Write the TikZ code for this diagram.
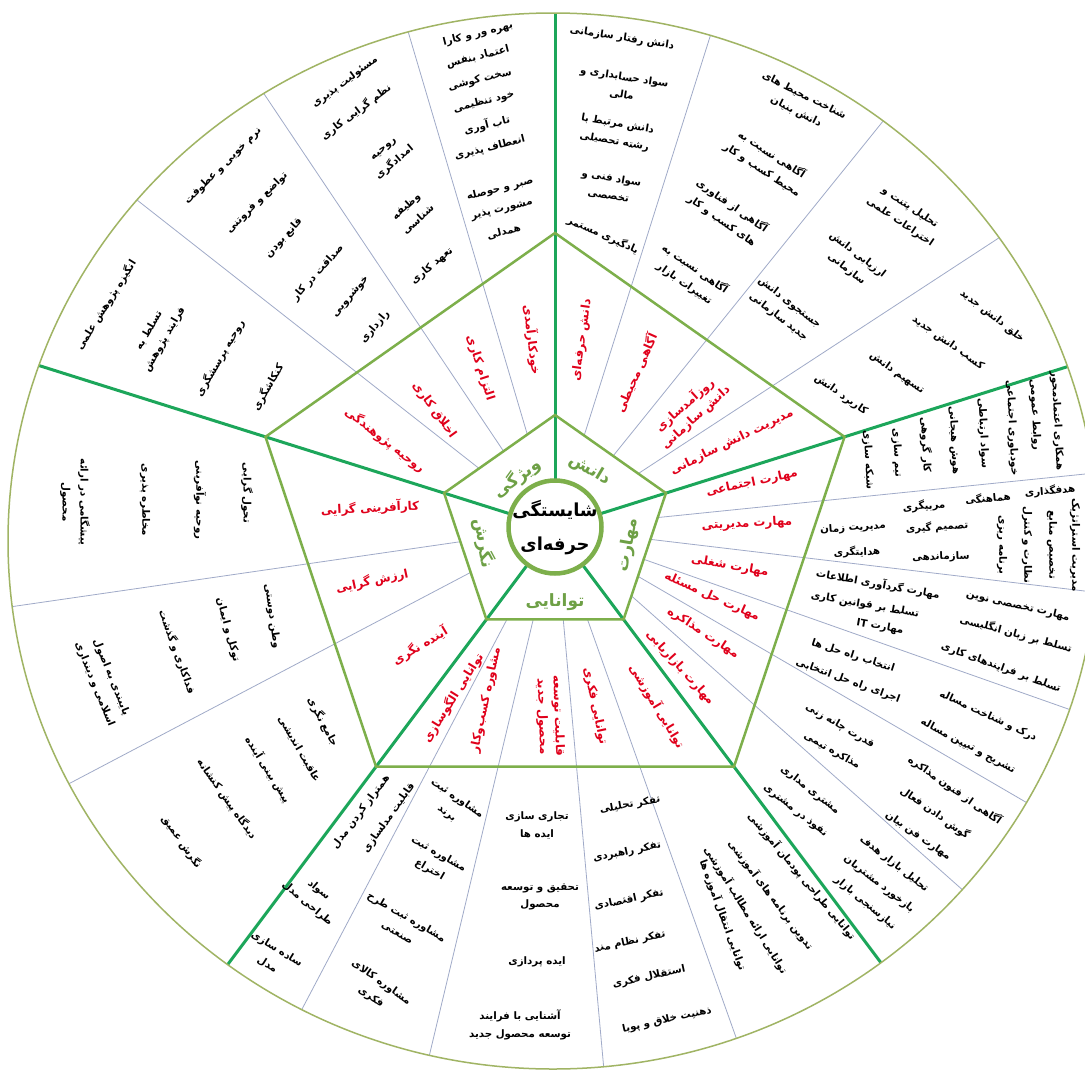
\documentclass[tikz,border=0pt]{standalone}
\usepackage{fontspec}
\usetikzlibrary{calc}
\TeXXeTstate=1
\newfontfamily\arabicfont[Script=Arabic]{DejaVu Sans}
\newcommand{\fa}[1]{\beginR #1\endR}
\definecolor{spoke}{HTML}{1CA65A}
\definecolor{olive}{HTML}{7DAF4B}
\definecolor{rim}{HTML}{A0B464}
\definecolor{thinc}{HTML}{A0AAC8}
\definecolor{redlab}{HTML}{E0001B}
\definecolor{grnlab}{HTML}{6EA046}
\begin{document}
\begin{tikzpicture}[x=1bp,y=-1bp,
  thinl/.style={draw=thinc,line width=0.8bp},
  spk/.style={draw=spoke,line width=3bp},
  pent/.style={draw=olive,line width=2.5bp},
  blk/.style={font=\arabicfont\bfseries\fontsize{10.3}{18}\selectfont,align=center,inner sep=0pt},
  redl/.style={font=\arabicfont\bfseries\fontsize{12}{16}\selectfont,text=redlab,align=center,inner sep=0pt},
  grnl/.style={font=\arabicfont\bfseries\fontsize{17}{20}\selectfont,text=grnlab,inner sep=0pt},
  ctrl/.style={font=\arabicfont\bfseries\fontsize{18}{22}\selectfont,inner sep=0pt}]
\useasboundingbox (0,0) rectangle (1085,1073);
\fill[white] (0,0) rectangle (1085,1073);
\coordinate (C) at (555,528);
\coordinate (E) at (553,541);
\foreach \a in {90,162,234,306,18}{
  \coordinate (o\a) at ($(C)+({1.032*295*cos(\a)},{-295*sin(\a)})$);
  \coordinate (i\a) at ($(C)+({1.032*113*cos(\a)},{-113*sin(\a)})$);
}
\begin{scope}
\clip (E) ellipse [x radius=545, y radius=528];
\foreach \a in {106,123,141,73,52,34,6,-7,-20,-31,-42.5,243,257,275,289,188.5,208.5}
  \draw[thinl] (C) -- ($(C)+({1.032*700*cos(\a)},{-700*sin(\a)})$);
\fill[white] (i90)--(i162)--(i234)--(i306)--(i18)--cycle;
\foreach \a in {90,162,234,306,18}
  \draw[spk] (C) -- ($(C)+({1.032*700*cos(\a)},{-700*sin(\a)})$);
\end{scope}
\draw[pent] (o90)--(o162)--(o234)--(o306)--(o18)--cycle;
\draw[pent] (i90)--(i162)--(i234)--(i306)--(i18)--cycle;
\draw[draw=rim,line width=1.5bp] (E) ellipse [x radius=545, y radius=528];
\node[circle,draw=olive,line width=4.5bp,fill=white,minimum size=93bp,inner sep=0pt] (ctr) at (555,527) {};
% centre
\node[ctrl] (c1) at (555,510) {\fa{شایستگی}};
\node[ctrl] (c2) at (555,546) {\fa{حرفه‌ای}};
% five categories
\node[grnl,rotate=-31] (g1) at (590,470) {\fa{دانش}};
\node[grnl,rotate=36] (g2) at (517,478) {\fa{ویژگی}};
\node[grnl,rotate=80] (g3) at (628,545) {\fa{مهارت}};
\node[grnl] (g4) at (555,602) {\fa{توانایی}};
\node[grnl,rotate=-80] (g5) at (484,543) {\fa{نگرش}};
% red labels
\node[redl,rotate=-83] (r1) at (532,340) {\fa{خودکارآمدی}};
\node[redl,rotate=-72] (r2) at (480,368) {\fa{التزام کاری}};
\node[redl,rotate=-54] (r3) at (434,410) {\fa{اخلاق کاری}};
\node[redl,rotate=-38] (r4) at (385,440) {\fa{روحیه پژوهندگی}};
\node[redl,rotate=82] (r5) at (582,340) {\fa{دانش حرفه‌ای}};
\node[redl,rotate=66] (r6) at (636,373) {\fa{آگاهی محیطی}};
\node[redl,rotate=42] (r7) at (690,411) {\fa{روزآمدسازی}\\\fa{دانش سازمانی}};
\node[redl,rotate=26] (r8) at (732,442) {\fa{مدیریت دانش سازمانی}};
\node[redl,rotate=12] (r9) at (752,483) {\fa{مهارت اجتماعی}};
\node[redl,rotate=3] (r10) at (747,524) {\fa{مهارت مدیریتی}};
\node[redl,rotate=-10] (r11) at (730,566) {\fa{مهارت شغلی}};
\node[redl,rotate=-24] (r12) at (712,597) {\fa{مهارت حل مسئله}};
\node[redl,rotate=-33] (r13) at (703,633) {\fa{مهارت مذاکره}};
\node[redl,rotate=-48] (r14) at (680,668) {\fa{مهارت بازاریابی}};
\node[redl,rotate=-59] (r15) at (657,706) {\fa{توانایی آموزشی}};
\node[redl,rotate=-78] (r16) at (595,706) {\fa{توانایی فکری}};
\node[redl,rotate=-88] (r17) at (550,716) {\fa{قابلیت توسعه}\\\fa{محصول جدید}};
\node[redl,rotate=78] (r18) at (486,700) {\fa{مشاوره کسب‌وکار}};
\node[redl,rotate=58] (r19) at (453,698) {\fa{توانایی الگوسازی}};
\node[redl,rotate=3] (r20) at (370,508) {\fa{کارآفرینی گرایی}};
\node[redl,rotate=12] (r21) at (372,581) {\fa{ارزش گرایی}};
\node[redl,rotate=31] (r22) at (420,646) {\fa{آینده نگری}};
% top-left sector, column A
\node[blk,rotate=14] (a1) at (478,34) {\fa{بهره ور و کارا}};
\node[blk,rotate=14] (a2) at (478,57) {\fa{اعتماد بنفس}};
\node[blk,rotate=14] (a3) at (480,80) {\fa{سخت کوشی}};
\node[blk,rotate=14] (a4) at (484,102) {\fa{خود تنظیمی}};
\node[blk,rotate=14] (a5) at (487,125) {\fa{تاب آوری}};
\node[blk,rotate=14] (a6) at (490,148) {\fa{انعطاف پذیری}};
\node[blk,rotate=14] (a7) at (500,189) {\fa{صبر و حوصله}};
\node[blk,rotate=14] (a8) at (502,210) {\fa{مشورت پذیر}};
\node[blk,rotate=14] (a9) at (504,232) {\fa{همدلی}};
% column B
\node[blk,rotate=37] (b1) at (345,82) {\fa{مسئولیت پذیری}};
\node[blk,rotate=37] (b2) at (356,112) {\fa{نظم گرایی کاری}};
\node[blk,rotate=40] (b3) at (390,157) {\fa{روحیه}\\\fa{امدادگری}};
\node[blk,rotate=42] (b4) at (412,213) {\fa{وظیفه}\\\fa{شناسی}};
\node[blk,rotate=40] (b5) at (432,266) {\fa{تعهد کاری}};
% column C
\node[blk,rotate=45] (cc1) at (223,166) {\fa{نرم خویی و عطوفت}};
\node[blk,rotate=45] (cc2) at (257,203) {\fa{تواضع و فروتنی}};
\node[blk,rotate=48] (cc3) at (284,238) {\fa{قانع بودن}};
\node[blk,rotate=48] (cc4) at (318,273) {\fa{صداقت در کار}};
\node[blk,rotate=50] (cc5) at (351,297) {\fa{خوشرویی}};
\node[blk,rotate=50] (cc6) at (375,327) {\fa{رازداری}};
% column D
\node[blk,rotate=58] (d1) at (106,305) {\fa{انگیزه پژوهش علمی}};
\node[blk,rotate=60] (d2) at (157,335) {\fa{تسلط به}\\\fa{فرایند پژوهش}};
\node[blk,rotate=60] (d3) at (220,358) {\fa{روحیه پرسشگری}};
\node[blk,rotate=60] (d4) at (268,387) {\fa{کنکاشگری}};
% top-right sector, column 1
\node[blk,rotate=-9] (e1) at (622,38) {\fa{دانش رفتار سازمانی}};
\node[blk,rotate=-9] (e2) at (623,86) {\fa{سواد حسابداری و}\\\fa{مالی}};
\node[blk,rotate=-10] (e3) at (616,133) {\fa{دانش مرتبط با}\\\fa{رشته تحصیلی}};
\node[blk,rotate=-10] (e4) at (610,187) {\fa{سواد فنی و}\\\fa{تخصصی}};
\node[blk,rotate=-24] (e5) at (603,235) {\fa{یادگیری مستمر}};
% column 2
\node[blk,rotate=-27] (f1) at (800,104) {\fa{شناخت محیط های}\\\fa{دانش بنیان}};
\node[blk,rotate=-33] (f2) at (767,162) {\fa{آگاهی نسبت به}\\\fa{محیط کسب و کار}};
\node[blk,rotate=-35] (f3) at (727,213) {\fa{آگاهی از فناوری}\\\fa{های کسب و کار}};
\node[blk,rotate=-35] (f4) at (690,276) {\fa{آگاهی نسبت به}\\\fa{تغییرات بازار}};
% column 3
\node[blk,rotate=-34] (h1) at (905,215) {\fa{تحلیل پتنت و}\\\fa{اختراعات علمی}};
\node[blk,rotate=-38] (h2) at (852,262) {\fa{ارزیابی دانش}\\\fa{سازمانی}};
\node[blk,rotate=-38] (h3) at (784,310) {\fa{جستجوی دانش}\\\fa{جدید سازمانی}};
% column 4
\node[blk,rotate=-38] (k1) at (992,316) {\fa{خلق دانش جدید}};
\node[blk,rotate=-35] (k2) at (948,343) {\fa{کسب دانش جدید}};
\node[blk,rotate=-35] (k3) at (897,373) {\fa{تسهیم دانش}};
\node[blk,rotate=-35] (k4) at (841,395) {\fa{کاربرد دانش}};
% right sector, column 1
\node[blk,rotate=-87] (m1) at (1057,421) {\fa{همکاری اعتمادمحور}};
\node[blk,rotate=-87] (m2) at (1035,415) {\fa{روابط عمومی}};
\node[blk,rotate=-87] (m3) at (1012,428) {\fa{خودباوری اجتماعی}};
\node[blk,rotate=-87] (m4) at (983,433) {\fa{سواد ارتباطی}};
\node[blk,rotate=-87] (m5) at (954,440) {\fa{هوش هیجانی}};
\node[blk,rotate=-87] (m6) at (926,445) {\fa{کار گروهی}};
\node[blk,rotate=-87] (m7) at (897,453) {\fa{تیم سازی}};
\node[blk,rotate=-87] (m8) at (868,460) {\fa{شبکه سازی}};
% column 2
\node[blk,rotate=5] (n1) at (1050,491) {\fa{هدفگذاری}};
\node[blk,rotate=5] (n2) at (988,498) {\fa{هماهنگی}};
\node[blk,rotate=5] (n3) at (924,506) {\fa{مربیگری}};
\node[blk,rotate=4] (n4) at (937,527) {\fa{تصمیم گیری}};
\node[blk,rotate=4] (n5) at (853,528) {\fa{مدیریت زمان}};
\node[blk,rotate=2] (n6) at (941,557) {\fa{سازماندهی}};
\node[blk,rotate=2] (n7) at (857,552) {\fa{هدایتگری}};
\node[blk,rotate=-90] (n8) at (1075,545) {\fa{مدیریت استراتژیک}};
\node[blk,rotate=-90] (n9) at (1052,545) {\fa{تخصیص منابع}};
\node[blk,rotate=-90] (n10) at (1027,545) {\fa{نظارت و کنترل}};
\node[blk,rotate=-90] (n11) at (1002,545) {\fa{برنامه ریزی}};
% column 3
\node[blk,rotate=-13] (p1) at (1018,606) {\fa{مهارت تخصصی نوین}};
\node[blk,rotate=-10] (p2) at (878,584) {\fa{مهارت گردآوری اطلاعات}};
\node[blk,rotate=-10] (p3) at (865,605) {\fa{تسلط بر قوانین کاری}};
\node[blk,rotate=-15] (p4) at (1016,634) {\fa{تسلط بر زبان انگلیسی}};
\node[blk,rotate=-10] (p5) at (880,627) {\fa{مهارت \beginL IT\endL}};
\node[blk,rotate=-20] (p6) at (1001,668) {\fa{تسلط بر فرایندهای کاری}};
% column 4
\node[blk,rotate=-18] (q1) at (853,656) {\fa{انتخاب راه حل ها}};
\node[blk,rotate=-20] (q2) at (848,681) {\fa{اجرای راه حل انتخابی}};
\node[blk,rotate=-25] (q3) at (988,716) {\fa{درک و شناخت مساله}};
\node[blk,rotate=-28] (q4) at (968,746) {\fa{تشریح و تبیین مساله}};
% column 5
\node[blk,rotate=-30] (s1) at (840,726) {\fa{قدرت چانه زنی}};
\node[blk,rotate=-30] (s2) at (832,751) {\fa{مذاکره تیمی}};
\node[blk,rotate=-35] (s3) at (955,790) {\fa{آگاهی از فنون مذاکره}};
\node[blk,rotate=-35] (s4) at (935,813) {\fa{گوش دادن فعال}};
\node[blk,rotate=-35] (s5) at (918,836) {\fa{مهارت فن بیان}};
% column 6
\node[blk,rotate=-38] (u1) at (810,790) {\fa{مشتری مداری}};
\node[blk,rotate=-38] (u2) at (795,811) {\fa{نفوذ در مشتری}};
\node[blk,rotate=-38] (u3) at (894,864) {\fa{تحلیل بازار هدف}};
\node[blk,rotate=-38] (u4) at (879,884) {\fa{بازخورد مشتریان}};
\node[blk,rotate=-40] (u5) at (865,903) {\fa{نیازسنجی بازار}};
% bottom sector
\node[blk,rotate=53] (v1) at (361,812) {\fa{همتراز کردن مدل}};
\node[blk,rotate=55] (v2) at (389,818) {\fa{قابلیت مدلسازی}};
\node[blk,rotate=-40] (v3) at (313,897) {\fa{سواد}\\\fa{طراحی مدل}};
\node[blk,rotate=-32] (v4) at (272,957) {\fa{ساده سازی}\\\fa{مدل}};
\node[blk,rotate=-35] (w1) at (452,806) {\fa{مشاوره ثبت}\\\fa{برند}};
\node[blk,rotate=-30] (w2) at (434,862) {\fa{مشاوره ثبت}\\\fa{اختراع}};
\node[blk,rotate=-30] (w3) at (402,925) {\fa{مشاوره ثبت طرح}\\\fa{صنعتی}};
\node[blk,rotate=-35] (w4) at (376,990) {\fa{مشاوره کالای}\\\fa{فکری}};
\node[blk] (x1) at (537,825) {\fa{تجاری سازی}\\\fa{ایده ها}};
\node[blk] (x2) at (540,897) {\fa{تحقیق و توسعه}\\\fa{محصول}};
\node[blk] (x3) at (537,962) {\fa{ایده پردازی}};
\node[blk] (x4) at (520,1025) {\fa{آشنایی با فرایند}\\\fa{توسعه محصول جدید}};
\node[blk,rotate=10] (y1) at (630,805) {\fa{تفکر تحلیلی}};
\node[blk,rotate=12] (y2) at (627,852) {\fa{تفکر راهبردی}};
\node[blk,rotate=12] (y3) at (629,900) {\fa{تفکر اقتصادی}};
\node[blk,rotate=12] (y4) at (630,942) {\fa{تفکر نظام مند}};
\node[blk,rotate=12] (y5) at (649,977) {\fa{استقلال فکری}};
\node[blk,rotate=12] (y6) at (667,1020) {\fa{ذهنیت خلاق و پویا}};
\node[blk,rotate=-50] (z1) at (802,876) {\fa{توانایی طراحی پودمان آموزشی}};
\node[blk,rotate=-53] (z2) at (771,895) {\fa{تدوین برنامه های آموزشی}};
\node[blk,rotate=-58] (z3) at (746,910) {\fa{توانایی ارائه مطالب آموزشی}};
\node[blk,rotate=-70] (z4) at (723,915) {\fa{توانایی انتقال آموزه ها}};
% left sector
\node[blk,rotate=-90] (l1) at (247,493) {\fa{تحول گرایی}};
\node[blk,rotate=-90] (l2) at (200,500) {\fa{روحیه نوآفرینی}};
\node[blk,rotate=-90] (l3) at (145,500) {\fa{مخاطره پذیری}};
\node[blk,rotate=-90] (l4) at (75,502) {\fa{پیشگامی در ارائه}\\\fa{محصول}};
\node[blk,rotate=-82] (l5) at (272,616) {\fa{وطن دوستی}};
\node[blk,rotate=-75] (l6) at (228,630) {\fa{توکل و ایمان}};
\node[blk,rotate=-70] (l7) at (177,652) {\fa{فداکاری و گذشت}};
\node[blk,rotate=-68] (l8) at (103,681) {\fa{پایبندی به اصول}\\\fa{اسلامی و دینداری}};
\node[blk,rotate=-62] (l9) at (323,722) {\fa{جامع نگری}};
\node[blk,rotate=-60] (l10) at (299,749) {\fa{عاقبت اندیشی}};
\node[blk,rotate=-58] (l11) at (268,770) {\fa{پیش بینی آینده}};
\node[blk,rotate=-55] (l12) at (227,799) {\fa{دیدگاه پیش کنشانه}};
\node[blk,rotate=-55] (l13) at (182,842) {\fa{نگرش عمیق}};
\end{tikzpicture}
\end{document}
